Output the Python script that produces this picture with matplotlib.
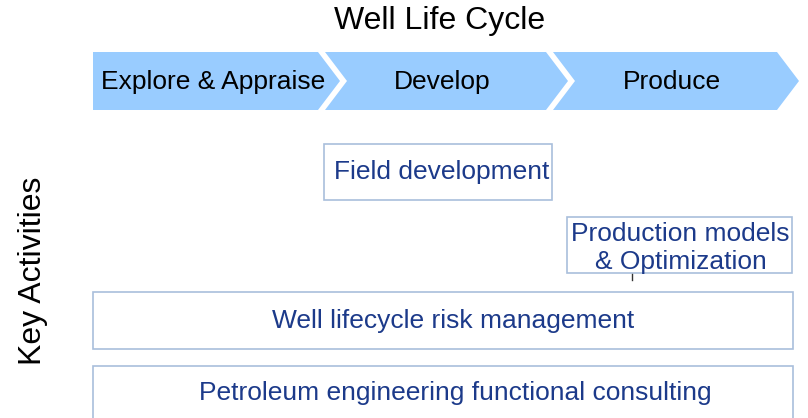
import matplotlib.pyplot as plt
from matplotlib.patches import Polygon, Rectangle

plt.rcParams['font.family'] = ['Liberation Sans', 'DejaVu Sans']

# data
title = "Well Life Cycle"
side_label = "Key Activities"
phases = ["Explore & Appraise", "Develop", "Produce"]
activities = ["Field development", "Production models\n& Optimization",
              "Well lifecycle risk management",
              "Petroleum engineering functional consulting"]

# layout (pixels, y down)
phase_left = [93, 325, 553]
phase_right = [318, 546, 777]
tip = 22
ph_top, ph_bot = 52, 110
# activity boxes: left, right, top, bottom
box_l = [324, 567, 93, 93]
box_r = [552, 792, 793, 793]
box_t = [144, 217, 292, 366]
box_b = [200, 273, 349, 420]
text_dx = [4, 1, 10, 12]
text_y = [172, 248, 321, 393]

fill = '#99ccff'
edge = '#a9bfdc'
txt = '#1c3a8a'

fig = plt.figure(figsize=(8.08, 4.18), dpi=100)
ax = fig.add_axes([0, 0, 1, 1])
ax.set_xlim(0, 808)
ax.set_ylim(418, 0)
ax.axis('off')

ax.text(440, 21, title, ha='center', va='center', fontsize=23, color='black')
ax.text(33, 271, side_label, ha='center', va='center', rotation=90,
        fontsize=23, color='black')

mid = (ph_top + ph_bot) / 2
for i, name in enumerate(phases):
    x0, x1 = phase_left[i], phase_right[i]
    pts = [(x0, ph_top), (x1, ph_top), (x1 + tip, mid), (x1, ph_bot), (x0, ph_bot)]
    if i > 0:
        pts.append((x0 + tip, mid))
    ax.add_patch(Polygon(pts, closed=True, facecolor=fill, edgecolor='none'))
    cx = (x0 + x1) / 2 + (7 if i > 0 else 8)
    ax.text(cx, mid + 1, name, ha='center', va='center', fontsize=19, color='black')

for i, name in enumerate(activities):
    l, r, t, b = box_l[i], box_r[i], box_t[i], box_b[i]
    ax.add_patch(Rectangle((l, t), r - l, b - t, facecolor='white',
                           edgecolor=edge, linewidth=1.2))
    ax.text((l + r) / 2 + text_dx[i], text_y[i], name, ha='center', va='center',
            fontsize=19, color=txt, linespacing=1.2)

# little connector stub under production box
ax.plot([632, 632], [274, 280], color='#333333', linewidth=1)

fig.savefig('out.png', dpi=100)
